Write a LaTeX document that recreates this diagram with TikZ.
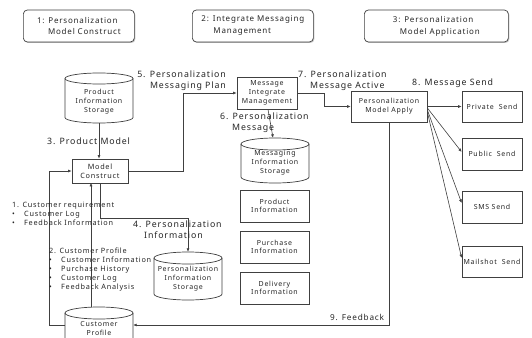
\documentclass[tikz,border=0pt]{standalone}
\usepackage{fontspec}
\setmainfont{Noto Sans}[LetterSpace=10]
\usetikzlibrary{arrows.meta,shadows,calc}
\newcommand\cylout[5]{% cx, top, bottom, rx, ry
  \draw[cylline] (#1,{#2+#5}) ellipse [x radius=#4pt, y radius=#5pt];
  \draw[cylline] ({#1-#4},{#2+#5}) -- ({#1-#4},{#3-#5})
     arc[start angle=180,end angle=360,x radius=#4pt,y radius=#5pt] -- ({#1+#4},{#2+#5});
}
\begin{document}
\begin{tikzpicture}[x=1pt,y=-1pt,
  every node/.style={text=black!85},
  cylline/.style={draw=black!75, line width=0.7pt},
  box/.style={draw=black!75, line width=0.7pt, inner sep=0pt, align=center,
     font=\fontsize{7}{8.7}\selectfont},
  phase/.style={draw=black!75, line width=0.7pt, rounded corners=4pt, fill=white,
     drop shadow={shadow xshift=1pt, shadow yshift=-1pt, fill=black!45},
     minimum height=32pt, align=left, font=\fontsize{8}{12}\selectfont, anchor=west},
  ghost/.style={inner sep=0pt},
  ctext/.style={inner sep=0pt, align=center, font=\fontsize{7}{9}\selectfont},
  lbl/.style={inner sep=0pt, font=\fontsize{8.8}{11}\selectfont},
  listtext/.style={inner sep=0pt, align=left, font=\fontsize{7.3}{9}\selectfont},
  arr/.style={draw=black!75, line width=0.6pt, -{Latex[length=3.5pt,width=3pt]}},
]
\useasboundingbox (0,0) rectangle (532,337);
\clip (0,0) rectangle (532,337);
\fill[white] (0,0) rectangle (532,337);

% phase boxes
\node[phase, minimum width=111pt, inner xsep=9pt] (t1) at (23,26) {1: Personalization\\\hspace{11pt}Model Construct};
\node[phase, minimum width=121pt, inner xsep=2pt] (t2) at (192,26) {2: Integrate Messaging\\\hspace{12pt}Management};
\node[phase, minimum width=144pt, inner xsep=2pt] (t3) at (364,26) {3: Personalization\\\hspace{7pt}Model Application};

% cylinders
\cylout{99}{73}{123}{34}{5.5}
\node[ghost, minimum width=68pt, minimum height=50pt] (pis) at (99,98) {};
\node[ctext] (pist) at (99,102) {Product\\Information\\Storage};

\cylout{275}{138}{183}{34}{6}
\node[ghost, minimum width=68pt, minimum height=45pt] (mis) at (275,160.5) {};
\node[ctext] (mist) at (275,163) {Messaging\\Information\\Storage};

\cylout{188}{252}{300}{34}{6}
\node[ghost, minimum width=68pt, minimum height=48pt] (pst) at (188,276) {};
\node[ctext] (pstt) at (188,279) {Personalization\\Information\\Storage};

\cylout{99}{307}{370}{34}{6}
\node[ghost, minimum width=68pt, minimum height=36pt] (cp) at (99,325) {};
\node[ctext] (cpt) at (99,328) {Customer\\Profile};

% boxes
\node[box, minimum width=56pt, minimum height=24pt, font=\fontsize{7.3}{9}\selectfont] (mc) at (100,171) {Model\\Construct};
\node[box, minimum width=60pt, minimum height=32pt] (mim) at (267,93) {Message\\Integrate\\Management};
\node[box, minimum width=76pt, minimum height=31pt] (pma) at (389,106.5) {Personalization\\Model Apply};
\node[box, minimum width=69pt, minimum height=32pt] (pi) at (274.5,206) {Product\\Information};
\node[box, minimum width=69pt, minimum height=32pt] (pu) at (274.5,247) {Purchase\\Information};
\node[box, minimum width=69pt, minimum height=32pt] (di) at (274.5,288) {Delivery\\Information};
\node[box, minimum width=60pt, minimum height=31pt] (ps) at (492,106.5) {Private\ \ Send};
\node[box, minimum width=60pt, minimum height=32pt] (pub) at (492,154) {Public\ \ Send};
\node[box, minimum width=60pt, minimum height=32pt] (sms) at (492,207) {SMS\ Send};
\node[box, minimum width=60pt, minimum height=31pt] (ms) at (492,261.5) {Mailshot\ \ Send};

% connectors
\draw[arr] (pis.south) -- (pis.south |- mc.north);
\draw[arr] (mc.east) -- ++(55,0) |- (mim.west);
\draw[arr] (mim.east) -- ++(27,0) |- (pma.west);
\draw[arr] ([xshift=1pt]mim.south) -- ([xshift=-2pt]mis.north);
\draw[arr] (pma.south) |- (cp.east);
\draw[arr] (cp.west) -- ++(-16,0) |- (mc.west);
\draw[arr] ([xshift=-8pt]cp.north) -- ++(0,-124);
\draw[arr] (mc.south) -- ++(0,35) -| (pst.north);
\draw[arr] (pma.east) -- (ps.west);
\draw[arr] ([yshift=-1.5pt]pma.east) -- ([yshift=2pt]pub.west);
\draw[arr] ([yshift=-3.5pt]pma.east) -- ([yshift=4pt]sms.west);
\draw[arr] ([yshift=-5.5pt]pma.east) -- ([yshift=3.5pt]ms.west);

% labels
\node[lbl, anchor=west] (l3) at (47,141) {3. Product Model};
\node[lbl, anchor=east, align=right] (l5) at (226,80.5) {5. Personalization\\Messaging Plan};
\node[lbl, anchor=west, align=left] (l6) at (220,122.5) {6. Personalization\\\hspace{12pt}Message};
\node[lbl, anchor=west, align=left] (l7) at (298,80.5) {7. Personalization\\\hspace{12pt}Message Active};
\node[lbl, anchor=west] (l8) at (412,83) {8. Message Send};
\node[lbl, anchor=west, align=left] (l4) at (133,229.5) {4. Personalization\\\hspace{11pt}Information};
\node[lbl, anchor=west, font=\fontsize{8.2}{10}\selectfont] (l9) at (330,317) {9. Feedback};
\node[listtext, anchor=west] (l1) at (12,214) {1. Customer requirement\\\makebox[12pt][l]{•}Customer Log\\\makebox[12pt][l]{•}Feedback Information};
\node[listtext, anchor=west] (l2) at (49,270) {2. Customer Profile\\\makebox[12pt][l]{•}Customer Information\\\makebox[12pt][l]{•}Purchase History\\\makebox[12pt][l]{•}Customer Log\\\makebox[12pt][l]{•}Feedback Analysis};
\end{tikzpicture}
\end{document}
